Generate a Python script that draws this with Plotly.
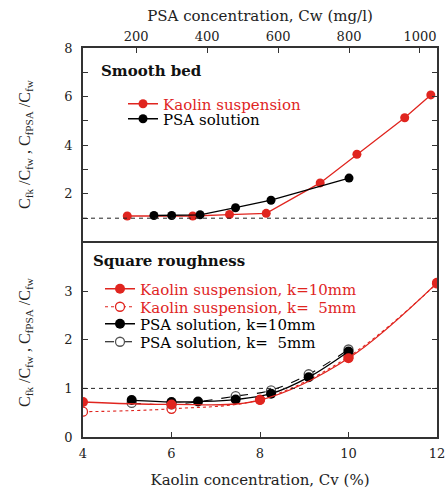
import plotly.graph_objects as go

# ---------------- data ----------------
# Top panel (smooth bed)
kaolin_cv_smooth = [5.0, 6.48, 7.31, 8.14, 9.36, 10.19, 11.27, 11.86]
kaolin_ratio_smooth = [1.09, 1.09, 1.15, 1.20, 2.45, 3.63, 5.13, 6.07]
psa_cw_smooth = [250, 300, 380, 480, 580, 800]
psa_ratio_smooth = [1.11, 1.11, 1.14, 1.43, 1.74, 2.65]

# Bottom panel (square roughness)
kaolin10_cv = [4, 6, 8, 10, 12]
kaolin10_ratio = [0.72, 0.67, 0.76, 1.62, 3.17]
kaolin5_cv = [4, 6, 8, 10, 12]
kaolin5_ratio = [0.52, 0.58, 0.77, 1.65, 3.16]
psa10_cv = [5.1, 6.0, 6.6, 7.45, 8.25, 9.1, 10.0]
psa10_ratio = [0.76, 0.72, 0.73, 0.77, 0.89, 1.23, 1.76]
psa5_cv = [5.1, 6.0, 7.45, 8.25, 9.1, 10.0]
psa5_ratio = [0.70, 0.67, 0.84, 0.96, 1.29, 1.80]

cv_ticks = [4, 6, 8, 10, 12]
cw_ticks = [200, 400, 600, 800, 1000]
top_y_ticks = [2, 4, 6, 8]
bot_y_ticks = [0, 1, 2, 3]

RED = "#e0251f"
BLACK = "#000000"
GRAY = "#555555"
FONT = "DejaVu Serif"

W, H = 447, 489
L, R, T, B = 83, 10, 48, 52
PW, PH = W - L - R, H - T - B


def px_x(p):
    return (p - L) / PW


def px_y(p):
    return (H - B - p) / PH


fig = go.Figure()

fig.add_trace(go.Scatter(x=kaolin_cv_smooth, y=kaolin_ratio_smooth, xaxis="x2", yaxis="y2",
                         mode="lines+markers", name="Kaolin suspension",
                         line=dict(color=RED, width=1.3),
                         marker=dict(color=RED, size=9), legend="legend"))
fig.add_trace(go.Scatter(x=psa_cw_smooth, y=psa_ratio_smooth, xaxis="x3", yaxis="y2",
                         mode="lines+markers", name="PSA solution",
                         line=dict(color=BLACK, width=1.3),
                         marker=dict(color=BLACK, size=9), legend="legend2"))

fig.add_trace(go.Scatter(x=kaolin5_cv, y=kaolin5_ratio, xaxis="x", yaxis="y",
                         mode="lines+markers", name="Kaolin suspension, k=\u00a0\u00a05mm",
                         line=dict(color=RED, width=1.1, dash="dot", shape="spline"),
                         marker=dict(color="white", size=9, line=dict(color=RED, width=1.3)),
                         legend="legend4"))
fig.add_trace(go.Scatter(x=psa5_cv, y=psa5_ratio, xaxis="x", yaxis="y",
                         mode="lines+markers", name="PSA solution, k=\u00a0\u00a05mm",
                         line=dict(color=BLACK, width=1.1, dash="dash", shape="spline"),
                         marker=dict(color="white", size=9, line=dict(color=GRAY, width=1.3)),
                         legend="legend6"))
fig.add_trace(go.Scatter(x=psa10_cv, y=psa10_ratio, xaxis="x", yaxis="y",
                         mode="lines+markers", name="PSA solution, k=10mm",
                         line=dict(color=BLACK, width=1.3, shape="spline"),
                         marker=dict(color=BLACK, size=10), legend="legend5"))
fig.add_trace(go.Scatter(x=kaolin10_cv, y=kaolin10_ratio, xaxis="x", yaxis="y",
                         mode="lines+markers", name="Kaolin suspension, k=10mm",
                         line=dict(color=RED, width=1.3, shape="spline"),
                         marker=dict(color=RED, size=10), legend="legend3"))

axis_common = dict(showline=True, linecolor="#333", linewidth=1.5, ticks="inside",
                   tickcolor="#333", tickwidth=1.2, ticklen=5, showgrid=False,
                   zeroline=False, automargin=False, ticklabeloverflow="allow",
                   tickfont=dict(family=FONT, size=13, color="#222"))

x2_common = {k: v for k, v in axis_common.items() if k not in ("ticks", "showline")}

fig.update_layout(
    template="none",
    width=W, height=H, margin=dict(l=L, r=R, t=T, b=B, autoexpand=False),
    paper_bgcolor="white", plot_bgcolor="white",
    font=dict(family=FONT, color="#222"),
    xaxis=dict(domain=[0, 1], anchor="y", range=[4, 12], tickvals=cv_ticks,
               mirror=True, ticklabelstandoff=4,
               title=dict(text="Kaolin concentration, Cv (%)", font=dict(family=FONT, size=15),
                          standoff=14),
               **axis_common),
    yaxis=dict(domain=[0, 0.5], anchor="x", range=[0, 4], tickvals=bot_y_ticks,
               mirror="ticks", ticklabelstandoff=6, **axis_common),
    xaxis2=dict(domain=[0, 1], anchor="y2", range=[4, 12], showticklabels=False,
                showline=False, tickvals=[], **x2_common),
    yaxis2=dict(domain=[0.5, 1], anchor="x2", range=[0, 8], tickvals=top_y_ticks,
                mirror="allticks", ticklabelstandoff=6,
                minor=dict(dtick=1, ticks="inside", ticklen=4, tickcolor="#333"),
                **axis_common),
    xaxis3=dict(overlaying="x2", anchor="y2", side="top", range=[50, 1048],
                tickvals=cw_ticks,
                title=dict(text="PSA concentration, Cw (mg/l)", font=dict(family=FONT, size=15),
                           standoff=4),
                **axis_common),
    showlegend=True,
)

# dashed reference lines at ratio = 1
fig.add_shape(type="line", xref="x2 domain", yref="y2", x0=0, x1=1, y0=1, y1=1,
              line=dict(color="#222", width=1, dash="4px,4px"))
fig.add_shape(type="line", xref="x domain", yref="y", x0=0, x1=1, y0=1, y1=1,
              line=dict(color="#222", width=1, dash="4px,4px"))

# legends
legend_pos = {
    "legend": (123, 104, RED),
    "legend2": (123, 119, BLACK),
    "legend3": (100, 289, RED),
    "legend4": (100, 307, RED),
    "legend5": (100, 324, BLACK),
    "legend6": (100, 342, BLACK),
}
for key, (lx, ly, col) in legend_pos.items():
    fig.update_layout({key: dict(x=px_x(lx), y=px_y(ly), xanchor="left", yanchor="middle",
                                 xref="paper", yref="paper", bgcolor="rgba(0,0,0,0)",
                                 borderwidth=0, font=dict(family=FONT, size=15, color=col),
                                 itemwidth=30)})

# panel labels
fig.add_annotation(text="<b>Smooth bed</b>", xref="paper", yref="paper",
                   x=px_x(99), y=px_y(71), xanchor="left", yanchor="middle",
                   showarrow=False, font=dict(family=FONT, size=15, color="#111"))
fig.add_annotation(text="<b>Square roughness</b>", xref="paper", yref="paper",
                   x=px_x(91), y=px_y(261), xanchor="left", yanchor="middle",
                   showarrow=False, font=dict(family=FONT, size=15, color="#111"))

ytitle = "C<sub>fk</sub> /C<sub>fw</sub> , C<sub>fPSA</sub> /C<sub>fw</sub>"
for cy in (144, 342):
    fig.add_annotation(text=ytitle, xref="paper", yref="paper", textangle=-90,
                       x=px_x(25), y=px_y(cy), xanchor="center", yanchor="middle",
                       showarrow=False,
                       font=dict(family="Liberation Serif", size=16, color="#222"))

fig.write_html("out.html", config={"displayModeBar": False},
               post_script="document.body.style.margin='0';document.body.style.padding='0';")
